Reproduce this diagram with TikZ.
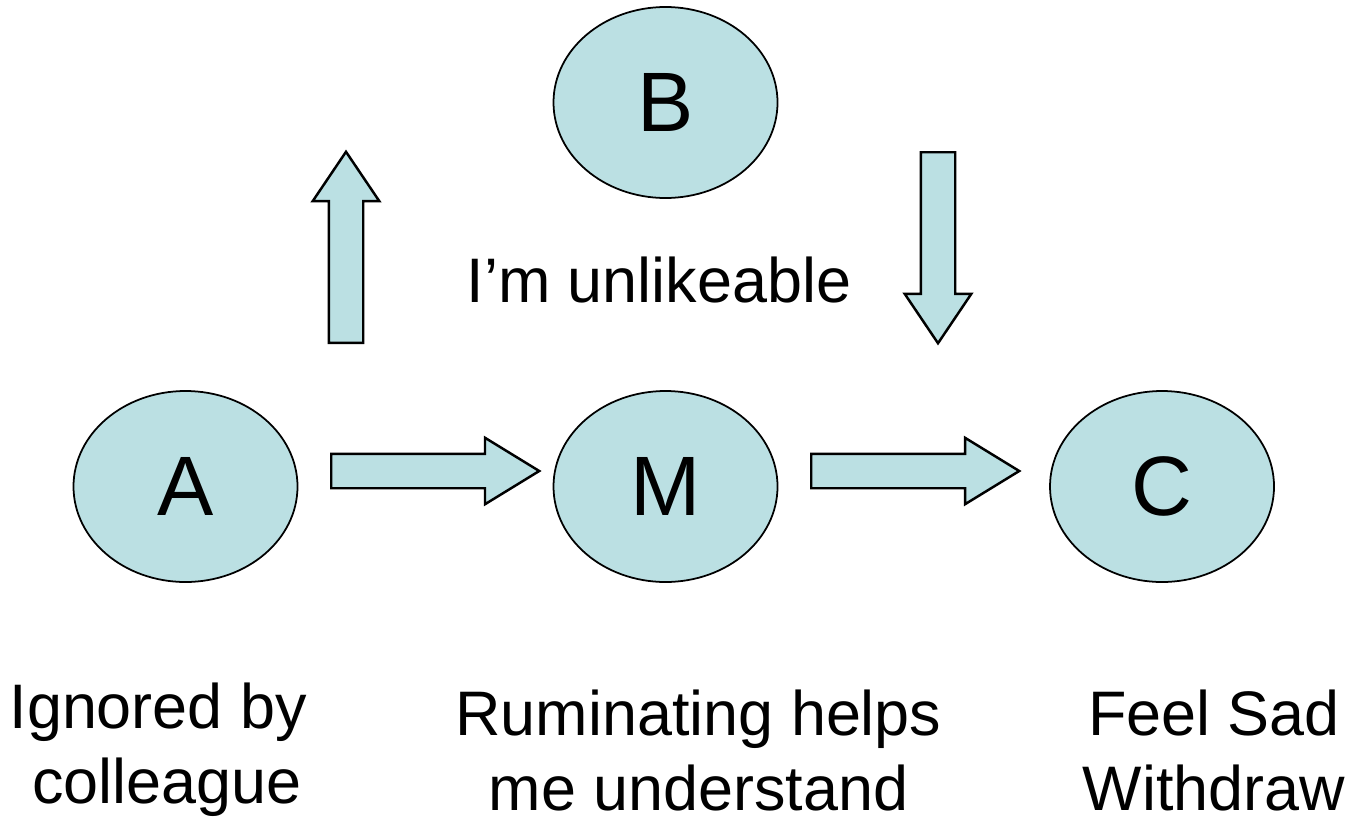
\documentclass[tikz,border=0pt]{standalone}
\usepackage{fontspec}
\setmainfont{Liberation Sans}
\usepackage{tikz}
\usetikzlibrary{shapes.geometric, shapes.arrows}
\definecolor{paleblue}{RGB}{187,224,227}
\tikzstyle{bubble} = [ellipse, draw=black, line width=0.5pt, fill=paleblue, minimum width=2.24cm, minimum height=1.91cm, inner sep=0pt, font=\fontsize{24}{29}\selectfont]
\tikzstyle{blockarrow} = [single arrow, draw=black, line width=0.7pt, fill=paleblue, inner xsep=0pt, inner ysep=0.16cm, single arrow head extend=0.16cm, anchor=tail]
\tikzstyle{words} = [align=center, inner sep=0pt, font=\fontsize{17.9}{21.3}\selectfont]

\begin{document}
\begin{tikzpicture}
    \useasboundingbox (0,0) rectangle (13.52,8.19);
    % Nodes
    \node[bubble] (A) at (1.855,3.325) {A};
    \node[bubble] (M) at (6.655,3.325) {M};
    \node[bubble] (C) at (11.62,3.325) {C};
    \node[bubble] (B) at (6.655,7.165) {B};

    % Arrows
    \node[blockarrow, minimum height=2.08cm, single arrow tip angle=63] (AM) at (3.30,3.48) {};
    \node[blockarrow, minimum height=2.08cm, single arrow tip angle=63] (MC) at (8.10,3.48) {};
    \node[blockarrow, minimum height=1.91cm, single arrow tip angle=68, rotate=90] (AB) at (3.46,4.75) {};
    \node[blockarrow, minimum height=1.91cm, single arrow tip angle=68, rotate=-90] (BC) at (9.38,6.68) {};

    % Labels
    \node[words, anchor=base] (Btext) at (6.59,5.17) {I’m unlikeable};
    \node[words, anchor=base] (Atext) at (1.67,0.16) {Ignored by\kern.28em\\colleague};
    \node[words, anchor=base] (Mtext) at (6.985,0.09) {Ruminating helps\\me understand};
    \node[words, anchor=base] (Ctext) at (12.14,0.09) {Feel Sad\\Withdraw};
\end{tikzpicture}
\end{document}
